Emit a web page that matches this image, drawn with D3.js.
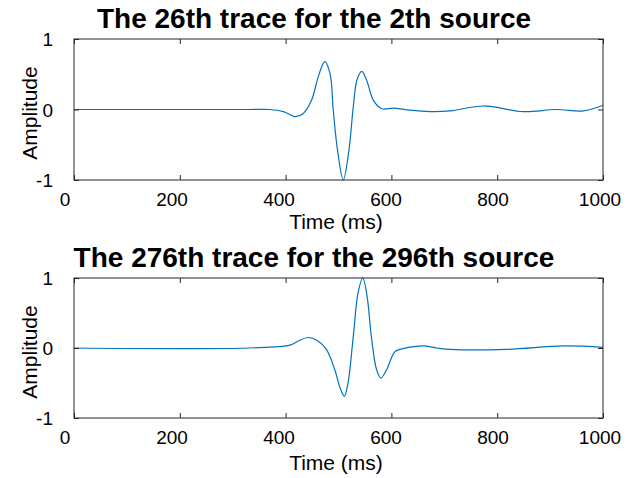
<!DOCTYPE html>
<html>
<head>
<meta charset="utf-8">
<script src="https://cdn.jsdelivr.net/npm/d3@7"></script>
<style>
  body { margin: 0; background: #fff; }
  svg { font-family: "Liberation Sans", Arial, sans-serif; }
</style>
</head>
<body>
<div id="chart"></div>
<script>
// values (time in ms, amplitude normalised)
const topTime = [0, 330, 370, 396, 418, 433, 449, 462, 474, 484, 490, 498, 509, 519, 528, 535, 544, 553, 566, 582, 604, 635, 673, 711, 774, 849, 912, 963, 1000];
const topAmp = [0, 0, 0, -0.03, -0.10, -0.06, 0.13, 0.47, 0.68, 0.51, 0, -0.57, -1, -0.62, 0.04, 0.42, 0.54, 0.42, 0.13, 0.01, 0.02, -0.01, -0.03, -0.02, 0.05, -0.03, 0, -0.02, 0.06];

const botTime = [0, 330, 408, 424, 443, 459, 477, 493, 503, 511, 518, 528, 537, 546, 554, 562, 572, 580, 591, 607, 622, 660, 686, 711, 818, 925, 1000];
const botAmp = [0, 0, 0.04, 0.10, 0.15, 0.11, -0.02, -0.31, -0.57, -0.69, -0.50, 0.17, 0.79, 1.0, 0.74, 0.17, -0.31, -0.43, -0.31, -0.05, -0.01, 0.03, 0, -0.02, -0.02, 0.03, 0.01];

const xTicks = [0, 200, 400, 600, 800, 1000];
const yTicks = [-1, 0, 1];
const titles = ["The 26th trace for the 2th source", "The 276th trace for the 296th source"];

const WIDTH = 636, HEIGHT = 478;
const LEFT = 74, RIGHT = 603;
const LINE_COLOR = "#0072BD";

const svg = d3.select("#chart").append("svg")
  .attr("width", WIDTH).attr("height", HEIGHT);

const x = d3.scaleLinear().domain([0, 1000]).range([LEFT, RIGHT]);
// tick labels sit slightly left of the ticks in the original
const xLab = d3.scaleLinear().domain([0, 1000]).range([65, 600]);

function drawPanel(top, bottom, time, amp, title, titleY, tickLabY, xLabelY, ampY) {
  const y = d3.scaleLinear().domain([-1, 1]).range([bottom, top]);
  const g = svg.append("g");

  const line = d3.line()
    .x((d, i) => x(time[i]))
    .y(d => y(d))
    .curve(d3.curveCatmullRom.alpha(0.5));

  g.append("path")
    .datum(amp)
    .attr("fill", "none")
    .attr("stroke", LINE_COLOR)
    .attr("stroke-width", 1.2)
    .attr("d", line);

  // inward ticks on all four sides
  const tk = 5;
  g.append("g").attr("transform", `translate(0,${bottom})`)
    .call(d3.axisBottom(x).tickValues(xTicks).tickSizeInner(-tk).tickSizeOuter(0).tickFormat(""));
  g.append("g").attr("transform", `translate(0,${top})`)
    .call(d3.axisTop(x).tickValues(xTicks).tickSizeInner(-tk).tickSizeOuter(0).tickFormat(""));
  g.append("g").attr("transform", `translate(${LEFT},0)`)
    .call(d3.axisLeft(y).tickValues(yTicks).tickSizeInner(-tk).tickSizeOuter(0).tickFormat(""));
  g.append("g").attr("transform", `translate(${RIGHT},0)`)
    .call(d3.axisRight(y).tickValues(yTicks).tickSizeInner(-tk).tickSizeOuter(0).tickFormat(""));
  g.selectAll(".domain").remove();
  g.selectAll(".tick line").attr("stroke", "#262626");

  g.append("rect")
    .attr("x", LEFT).attr("y", top)
    .attr("width", RIGHT - LEFT).attr("height", bottom - top)
    .attr("fill", "none").attr("stroke", "#262626").attr("stroke-width", 1);

  g.selectAll(".xlab").data(xTicks).enter().append("text")
    .attr("x", d => xLab(d)).attr("y", tickLabY)
    .attr("text-anchor", "middle").attr("font-size", 19).attr("fill", "#000")
    .text(d => d);

  g.selectAll(".ylab").data(yTicks).enter().append("text")
    .attr("x", 53).attr("y", d => y(d) + 7)
    .attr("text-anchor", "end").attr("font-size", 19).attr("fill", "#000")
    .text(d => d);

  g.append("text")
    .attr("x", 336).attr("y", xLabelY)
    .attr("text-anchor", "middle").attr("font-size", 21)
    .text("Time (ms)");

  g.append("text")
    .attr("transform", `translate(37,${ampY}) rotate(-90)`)
    .attr("text-anchor", "middle").attr("font-size", 21)
    .text("Amplitude");

  g.append("text")
    .attr("x", 314).attr("y", titleY)
    .attr("text-anchor", "middle").attr("font-size", 28).attr("font-weight", "bold")
    .text(title);
}

drawPanel(39, 180, topTime, topAmp, titles[0], 28, 206, 229, 113);
drawPanel(278, 418, botTime, botAmp, titles[1], 267, 444, 470, 352);
</script>
</body>
</html>
